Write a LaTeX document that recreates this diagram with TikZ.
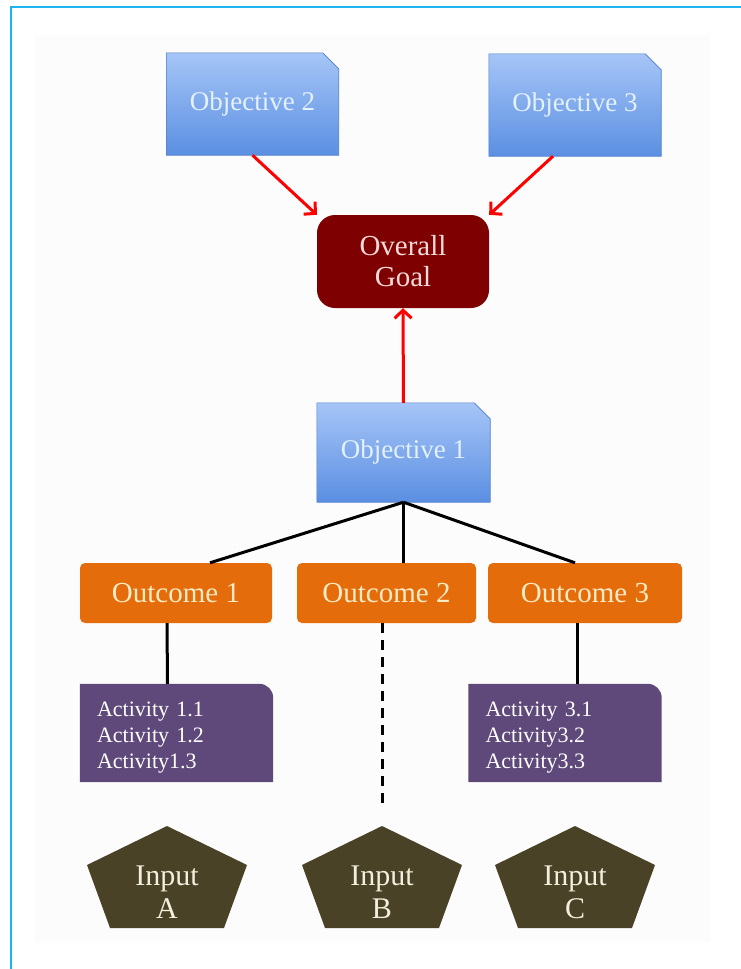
\documentclass[tikz,border=0pt]{standalone}
\usepackage{fontspec}
\setmainfont{Liberation Serif}
\usetikzlibrary{arrows.meta,calc,backgrounds}

\definecolor{framecyan}{HTML}{1EB4F0}
\definecolor{objtop}{HTML}{A6C5F7}
\definecolor{objbottom}{HTML}{5B8FE2}
\definecolor{objline}{HTML}{4F7FC9}
\definecolor{objtext}{HTML}{E4F1FF}
\definecolor{goalfill}{HTML}{7F0000}
\definecolor{goaltext}{HTML}{F6DADA}
\definecolor{outfill}{HTML}{E46C0A}
\definecolor{outtext}{HTML}{FDEBC4}
\definecolor{actfill}{HTML}{5F497A}
\definecolor{inputfill}{HTML}{4A4227}
\definecolor{inputtext}{HTML}{F2EFDC}

% box outlines drawn behind the named nodes
\newcommand{\objshape}[1]{%
  \path[top color=objtop,bottom color=objbottom,draw=objline,line width=0.6pt]
    (#1.south west) -- (#1.north west) -- ([xshift=-16pt]#1.north east)
    -- ([yshift=-16pt]#1.north east) -- (#1.south east) -- cycle;}
% activity box sits 5pt above its text node
\newcommand{\actshape}[1]{%
  \fill[actfill] ([yshift=5pt]#1.south west) -- ([yshift=5pt]#1.north west)
    -- ([xshift=-14pt,yshift=5pt]#1.north east)
    arc[start angle=90,end angle=0,radius=14pt] -- ([yshift=5pt]#1.south east) -- cycle;}
\newcommand{\inputshape}[1]{%
  \fill[inputfill] ($(#1)+(0,66)$) -- ($(#1)+(80,27)$) -- ($(#1)+(57,-36)$)
    -- ($(#1)+(-57,-36)$) -- ($(#1)+(-80,27)$) -- cycle;}

\begin{document}
\begin{tikzpicture}[x=1pt,y=1pt,
    >={Straight Barb[length=8pt,width=17pt]},
    objbox/.style={minimum width=172pt,minimum height=102pt,inner sep=0pt,text=objtext,font=\fontsize{27}{32}\selectfont},
    goalbox/.style={rounded corners=18pt,fill=goalfill,minimum width=172pt,minimum height=93pt,text=goaltext,align=center,font=\fontsize{29}{31}\selectfont},
    outbox/.style={rounded corners=5pt,fill=outfill,minimum height=60pt,inner sep=0pt,text=outtext,font=\fontsize{29}{32}\selectfont},
    actbox/.style={text width=159pt,inner xsep=17pt,minimum height=98pt,align=left,text=white,font=\fontsize{22}{26}\selectfont},
    inputbox/.style={align=center,text=inputtext,font=\fontsize{30}{33}\selectfont},
    redarrow/.style={->,red,line width=3pt},
    link/.style={black,line width=3pt}]
	\useasboundingbox (0,0) rectangle (741,-969);
	\draw[framecyan,line width=2pt] (11,-969) -- (11,-7) -- (741,-7);

	\node[objbox] (obj2) at (252.5,-104) {Objective 2};
	\node[objbox] (obj3) at (575,-105) {Objective 3};
	\node[goalbox] (goal) at (403,-261.5) {Overall\\Goal};
	\node[objbox,minimum width=173pt,minimum height=99pt] (obj1) at (403.5,-452.5) {Objective 1};

	\node[outbox,minimum width=192pt] (out1) at (176,-593) {Outcome 1};
	\node[outbox,minimum width=179pt] (out2) at (386.5,-593) {Outcome 2};
	\node[outbox,minimum width=194pt] (out3) at (585,-593) {Outcome 3};

	\node[actbox] (act1) at (176.5,-738) {Activity 1.1\\Activity 1.2\\Activity1.3};
	\node[actbox] (act3) at (565,-738) {Activity 3.1\\Activity3.2\\Activity3.3};

	\node[inputbox] (inA) at (167,-892) {Input\\A};
	\node[inputbox] (inB) at (382,-892) {Input\\B};
	\node[inputbox] (inC) at (575,-892) {Input\\C};
	\coordinate (endB) at (382,-810);

	\begin{scope}[on background layer]
		\fill[black!1] (35,-35) rectangle (710,-943);
		\objshape{obj2}
		\objshape{obj3}
		\objshape{obj1}
		\actshape{act1}
		\actshape{act3}
		\inputshape{inA}
		\inputshape{inB}
		\inputshape{inC}
	\end{scope}

	\draw[redarrow] (obj2.south) -- (goal.north west);
	\draw[redarrow] ([xshift=-22pt]obj3.south) -- (goal.north east);
	\draw[redarrow] (obj1.north) -- (goal.south);

	\draw[link] (obj1.south) -- ([xshift=34pt]out1.north);
	\draw[link] (obj1.south) -- (obj1.south |- out2.north);
	\draw[link] (obj1.south) -- ([xshift=-10pt]out3.north);

	\draw[link] ([xshift=-9pt]out1.south) -- ([xshift=-9pt,yshift=5pt]act1.north);
	\draw[link,dash pattern=on 10pt off 7pt] ([xshift=-4.5pt]out2.south) -- (endB);
	\draw[link] ([xshift=-8pt]out3.south) -- ([xshift=12pt,yshift=5pt]act3.north);
\end{tikzpicture}
\end{document}
